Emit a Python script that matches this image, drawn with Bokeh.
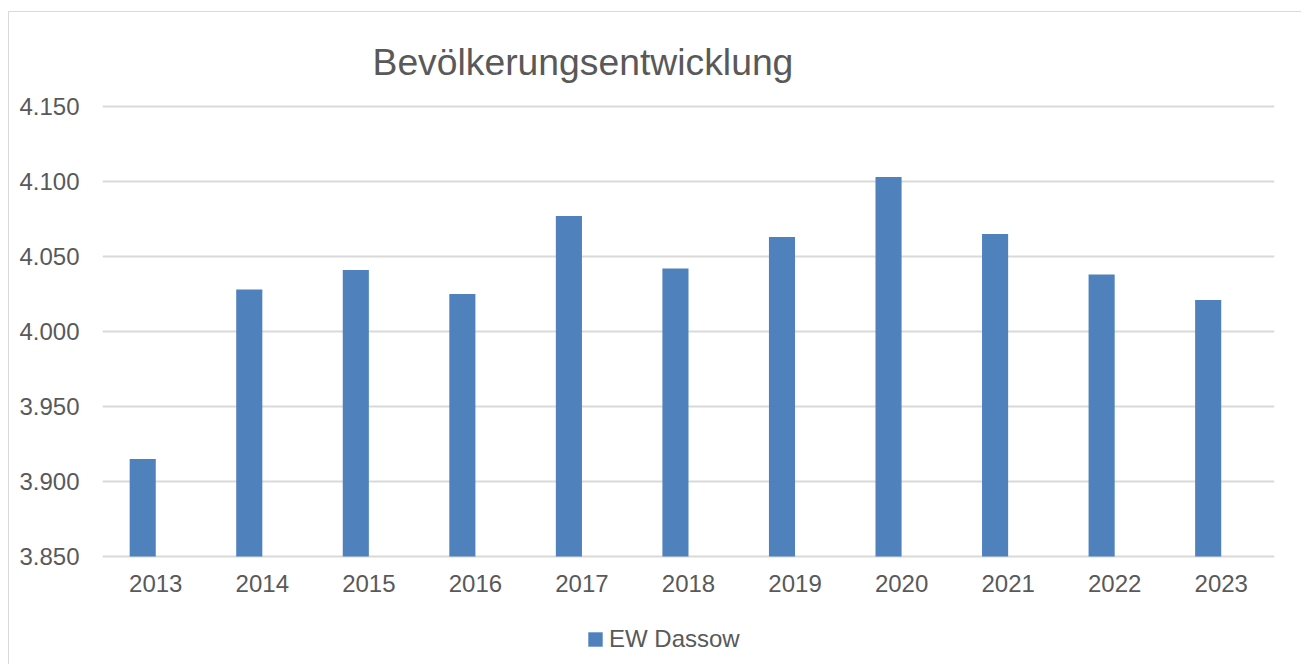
from bokeh.plotting import figure
from bokeh.layouts import column
from bokeh.transform import dodge
from bokeh.models import (FactorRange, Range1d, FixedTicker, Legend, LegendItem, ColumnDataSource)
from bokeh.embed import file_html
from bokeh.resources import INLINE

years = ["2013", "2014", "2015", "2016", "2017", "2018", "2019", "2020", "2021", "2022", "2023"]
residents = [3915, 4028, 4041, 4025, 4077, 4042, 4063, 4103, 4065, 4038, 4021]
y_ticks = [3850, 3900, 3950, 4000, 4050, 4100, 4150]
y_tick_labels = ["3.850", "3.900", "3.950", "4.000", "4.050", "4.100", "4.150"]
series_name = "EW Dassow"
title_text = "Bevölkerungsentwicklung"

FONT = "Liberation Sans"
TXT = "#595959"
GRID = "#d9d9d9"
BAR = "#4f81bd"
BAR_W = 0.245

src = ColumnDataSource(dict(x=years, top=residents))

# main chart
p = figure(width=1292, height=600, output_backend="svg", toolbar_location=None,
           x_range=FactorRange(factors=years, range_padding=0),
           y_range=Range1d(3848, 4152),
           min_border_left=93, min_border_right=27, min_border_top=91, min_border_bottom=53)
p.outline_line_color = None
p.background_fill_color = "white"
p.border_fill_color = "white"

# bar sits in the left half of its category slot (as in the original clustered layout)
r = p.vbar(x=dodge("x", -BAR_W / 2, range=p.x_range), top="top", bottom=3850, width=BAR_W,
           source=src, fill_color=BAR, line_color=None)

p.xgrid.grid_line_color = None
p.ygrid.grid_line_color = GRID
p.ygrid.grid_line_width = 2

p.yaxis.ticker = FixedTicker(ticks=y_ticks)
p.yaxis.major_label_overrides = {t: l for t, l in zip(y_ticks, y_tick_labels)}
for ax in (p.xaxis[0], p.yaxis[0]):
    ax.axis_line_color = None
    ax.major_tick_line_color = None
    ax.minor_tick_line_color = None
    ax.major_tick_out = 0
    ax.major_tick_in = 0
    ax.major_label_text_font = FONT
    ax.major_label_text_font_size = "24px"
    ax.major_label_text_color = TXT
p.yaxis.major_label_standoff = 23
p.xaxis.major_label_standoff = 15

p.title.text = title_text
p.title.align = "left"
p.title.offset = 270
p.title.standoff = 41
p.title.text_font = FONT
p.title.text_font_size = "37.3px"
p.title.text_font_style = "normal"
p.title.text_color = TXT

# legend strip below the chart
lg = figure(width=1292, height=52, output_backend="svg", toolbar_location=None,
            x_range=FactorRange(factors=years, range_padding=0), y_range=Range1d(0, 1),
            x_axis_location=None, y_axis_location=None, min_border=0)
lg.outline_line_color = None
lg.grid.grid_line_color = None
lg.background_fill_color = "white"
lg.border_fill_color = "white"
lr = lg.vbar(x="x", top="top", bottom=3850, width=BAR_W, source=src,
             fill_color=BAR, line_color=None, visible=False)
legend = Legend(items=[LegendItem(label=series_name, renderers=[lr])],
                location=(484, 11), orientation="horizontal",
                glyph_width=18, glyph_height=18, label_standoff=5,
                label_text_font=FONT, label_text_font_size="24px", label_text_color=TXT,
                border_line_color=None, background_fill_alpha=0, padding=0, margin=0,
                spacing=0, inactive_fill_alpha=0)
lg.add_layout(legend, "center")

layout = column(p, lg, spacing=0,
                styles={"margin-left": "8px", "margin-top": "11px",
                        "border-left": "1.5px solid #d9d9d9", "border-top": "1.5px solid #d9d9d9"})

open("out.html", "w").write(file_html(layout, INLINE))
